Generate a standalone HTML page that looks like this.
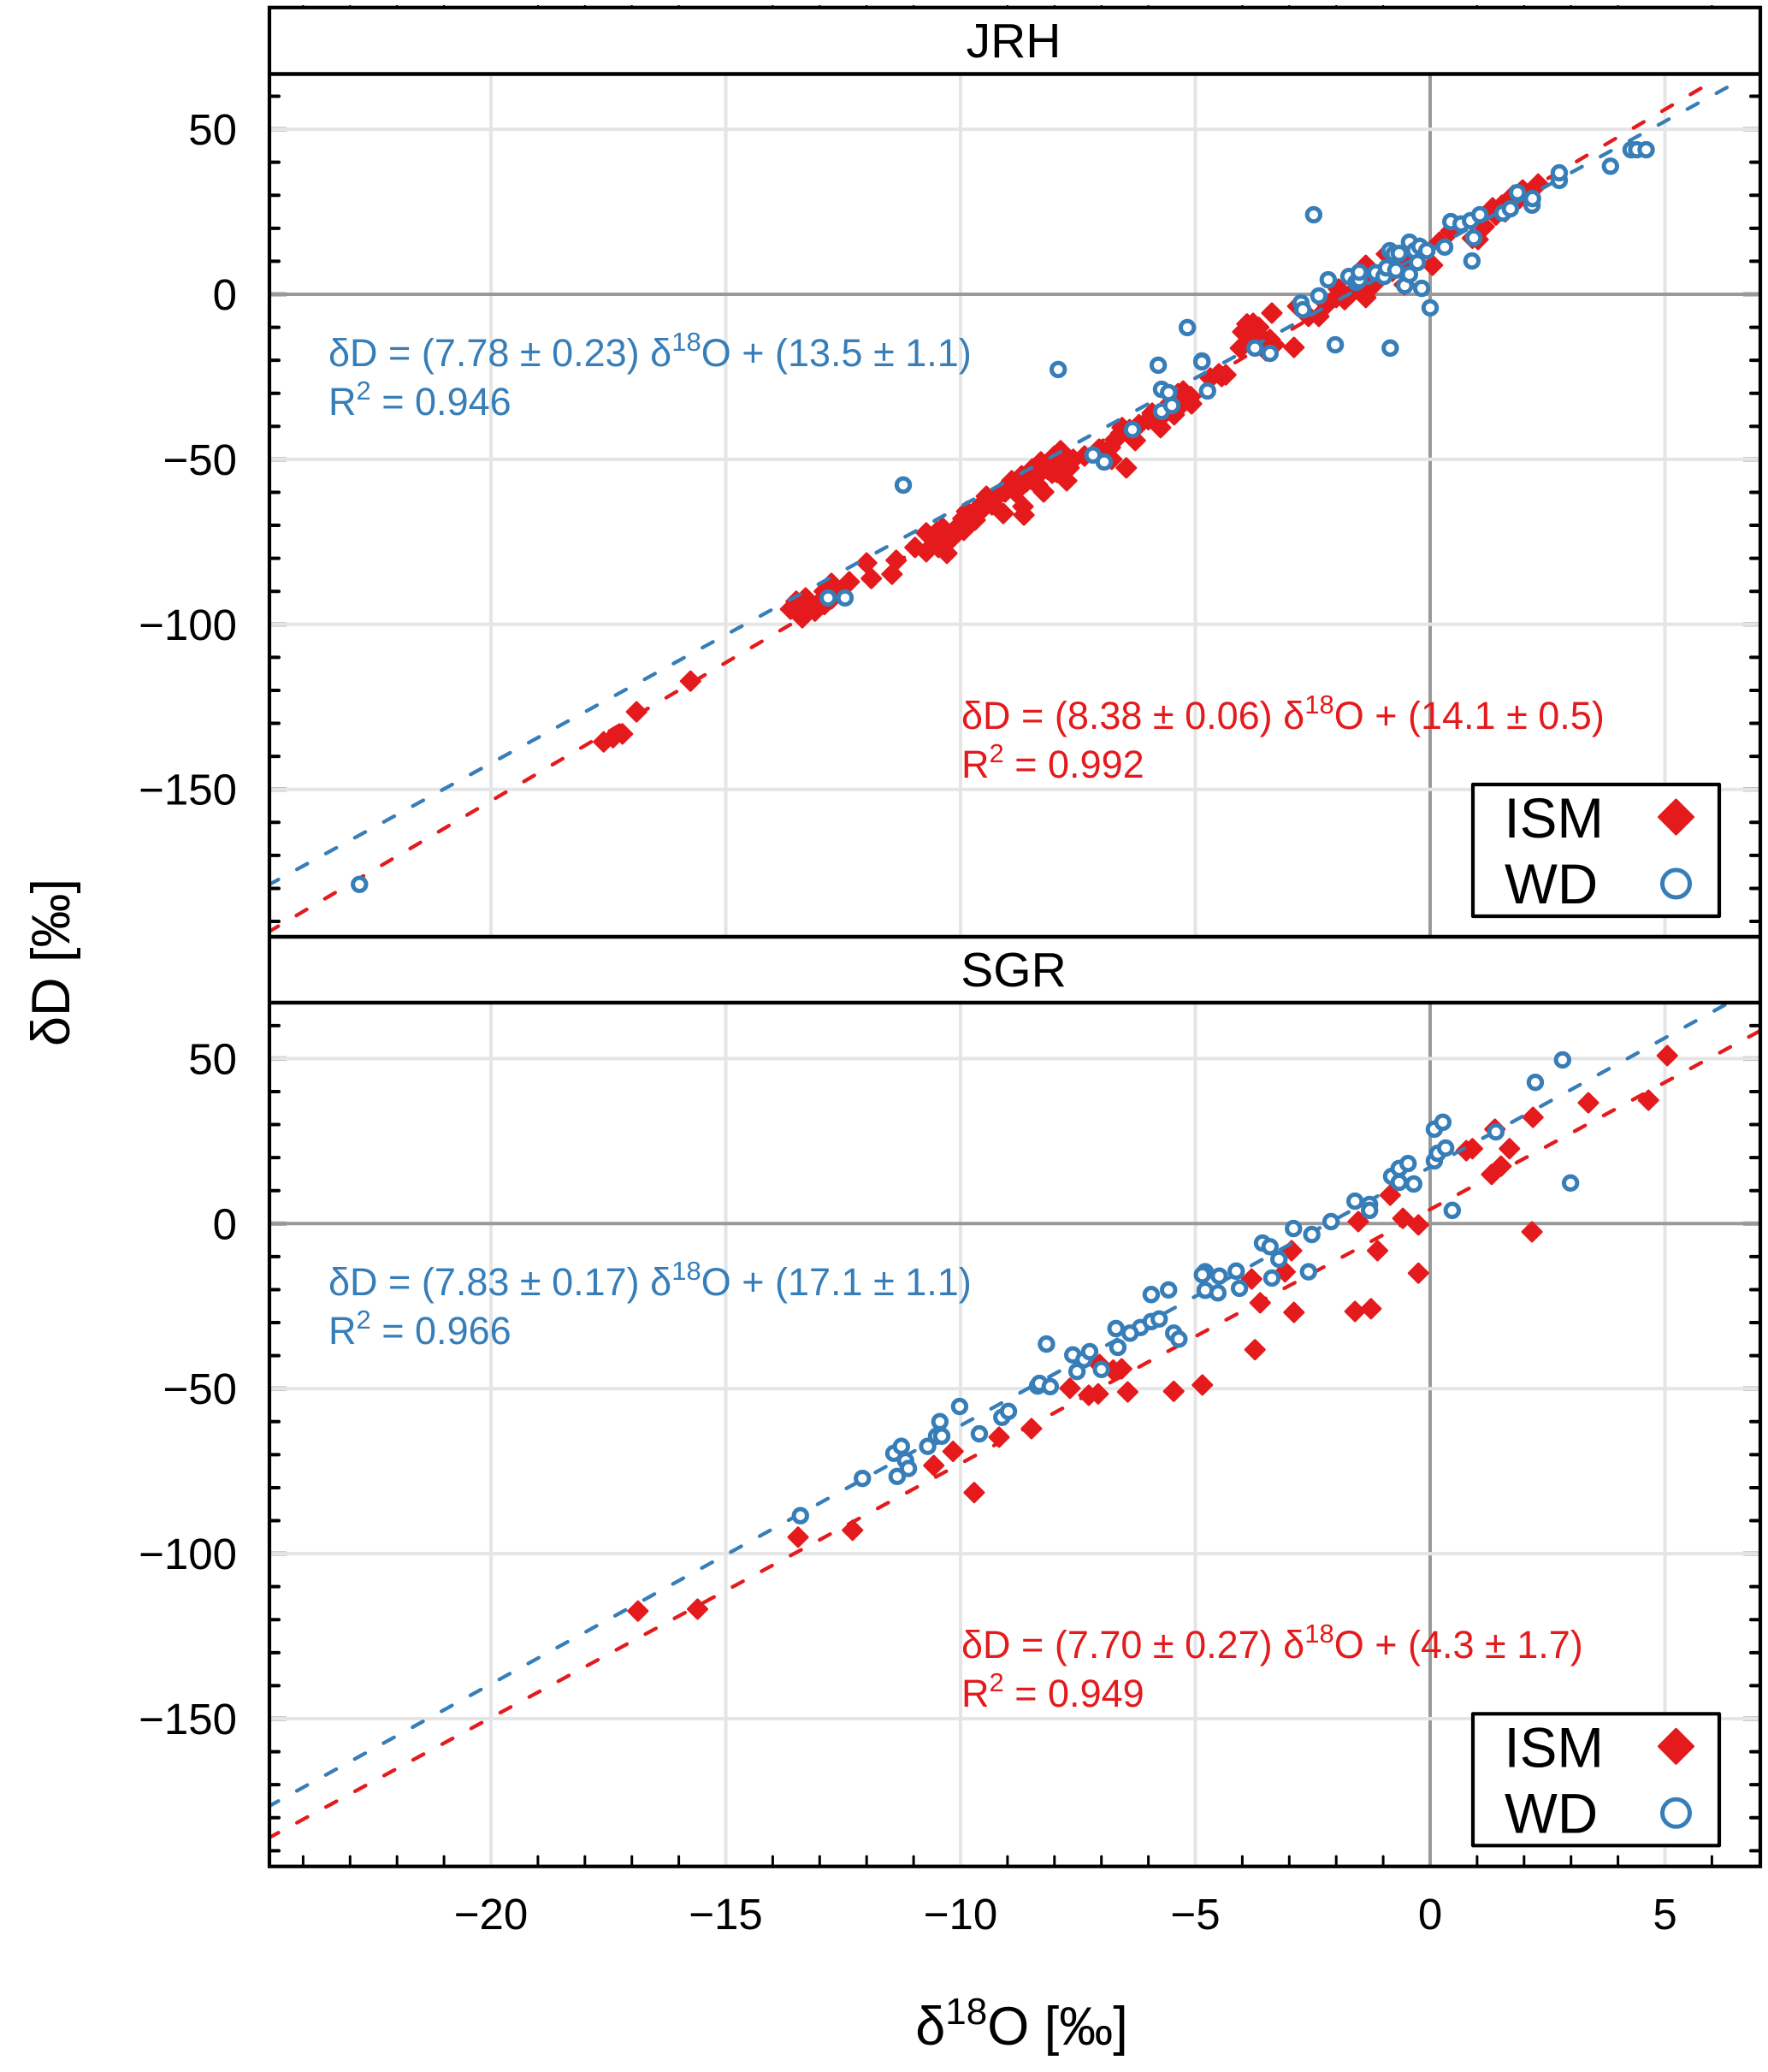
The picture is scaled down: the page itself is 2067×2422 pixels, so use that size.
<!DOCTYPE html>
<html lang="en">
<head>
<meta charset="utf-8">
<title>Stable isotope scatter: JRH and SGR</title>
<style>
html,body{margin:0;padding:0;background:#fff}
svg{display:block;font-family:"Liberation Sans",Arial,sans-serif}
</style>
</head>
<body>
<svg id="chart" xmlns="http://www.w3.org/2000/svg" width="2067" height="2422" viewBox="0 0 2067 2422">
  <defs>
    <clipPath id="clip-jrh"><rect x="315" y="86.5" width="1743" height="1008.5"/></clipPath>
    <clipPath id="clip-sgr"><rect x="315" y="1172" width="1743" height="1009.7"/></clipPath>
  </defs>
  <rect x="0" y="0" width="2067" height="2422" fill="#fff"/>
  <g id="jrh-panel" clip-path="url(#clip-jrh)"></g>
  <g id="sgr-panel" clip-path="url(#clip-sgr)"></g>
  <g id="axis-ticks"></g>

  <g stroke="#000" fill="none" stroke-width="4.2">
    <rect x="315" y="8.8" width="1743" height="2172.9"/>
    <line x1="315" x2="2058" y1="86.5" y2="86.5" stroke-width="4.6"/>
    <line x1="315" x2="2058" y1="1095" y2="1095" stroke-width="4.6"/>
    <line x1="315" x2="2058" y1="1172" y2="1172" stroke-width="4.6"/>
  </g>

  <text x="1185" y="67" font-size="57" text-anchor="middle">JRH</text>
  <text x="1185" y="1153" font-size="57" text-anchor="middle">SGR</text>

  <g id="tick-labels" font-size="51" fill="#000"></g>

  <text transform="translate(81,1125) rotate(-90)" font-size="63" text-anchor="middle">δD [‰]</text>
  <text x="1194.5" y="2390" font-size="63" text-anchor="middle">δ<tspan font-size="44" dy="-24">18</tspan><tspan dy="24">O [‰]</tspan></text>

  <g fill="#377eb8" font-size="45">
    <text x="384" y="428">δD = (7.78 ± 0.23) δ<tspan font-size="31" dy="-18">18</tspan><tspan dy="18">O + (13.5 ± 1.1)</tspan></text>
    <text x="384" y="485">R<tspan font-size="31" dy="-18">2</tspan><tspan dy="18"> = 0.946</tspan></text>
  </g>
  <g fill="#e41a1c" font-size="45">
    <text x="1124" y="852">δD = (8.38 ± 0.06) δ<tspan font-size="31" dy="-18">18</tspan><tspan dy="18">O + (14.1 ± 0.5)</tspan></text>
    <text x="1124" y="909">R<tspan font-size="31" dy="-18">2</tspan><tspan dy="18"> = 0.992</tspan></text>
  </g>
  <g fill="#377eb8" font-size="45">
    <text x="384" y="1514">δD = (7.83 ± 0.17) δ<tspan font-size="31" dy="-18">18</tspan><tspan dy="18">O + (17.1 ± 1.1)</tspan></text>
    <text x="384" y="1571">R<tspan font-size="31" dy="-18">2</tspan><tspan dy="18"> = 0.966</tspan></text>
  </g>
  <g fill="#e41a1c" font-size="45">
    <text x="1124" y="1938">δD = (7.70 ± 0.27) δ<tspan font-size="31" dy="-18">18</tspan><tspan dy="18">O + (4.3 ± 1.7)</tspan></text>
    <text x="1124" y="1995">R<tspan font-size="31" dy="-18">2</tspan><tspan dy="18"> = 0.949</tspan></text>
  </g>

  <g>
    <rect x="1722" y="917" width="288" height="154" fill="#fff" stroke="#000" stroke-width="4.2" stroke-linejoin="round"/>
    <text x="1758.5" y="979" font-size="65.5">ISM</text>
    <polygon points="1959.5,935 1979.5,955 1959.5,975 1939.5,955" fill="#e41a1c" stroke="#e41a1c" stroke-width="3" stroke-linejoin="round"/>
    <text x="1759" y="1056" font-size="65.5">WD</text>
    <circle cx="1959.5" cy="1033" r="16" fill="#fff" stroke="#377eb8" stroke-width="5"/>
  </g>
  <g>
    <rect x="1722" y="2003.3" width="288" height="154" fill="#fff" stroke="#000" stroke-width="4.2" stroke-linejoin="round"/>
    <text x="1758.5" y="2065.3" font-size="65.5">ISM</text>
    <polygon points="1959.5,2021.3 1979.5,2041.3 1959.5,2061.3 1939.5,2041.3" fill="#e41a1c" stroke="#e41a1c" stroke-width="3" stroke-linejoin="round"/>
    <text x="1759" y="2142.3" font-size="65.5">WD</text>
    <circle cx="1959.5" cy="2119.3" r="16" fill="#fff" stroke="#377eb8" stroke-width="5"/>
  </g>
</svg>
<script>
// ---- tick values ----
const xMajorTicks = [-20, -15, -10, -5, 0, 5];
const xMinorTicks = [-24, -23, -22, -21, -19, -18, -17, -16, -14, -13, -12, -11, -9, -8, -7, -6, -4, -3, -2, -1, 1, 2, 3, 4, 6];
const yMajorTicks = [50, 0, -50, -100, -150];
const yMinorTicks = [60, 40, 30, 20, 10, -10, -20, -30, -40, -60, -70, -80, -90, -110, -120, -130, -140, -160, -170, -180, -190];

// ---- JRH ISM ----
const jrhIsmX = [-17.6,-17.4,-17.2,-16.9,-15.75,-13.62,-13.5,-13.46,-13.37,-13.3,-13.2,-13.1,-13.06,-12.9,-12.9,-12.75,-12.75,-12.55,-12.37,-12.0,-11.9,-11.37,-11.46,-10.97,-10.73,-10.73,-10.6,-10.5,-10.47,-10.38,-10.3,-10.29,-10.2,-10.1,-9.95,-9.93,-9.82,-9.69,-9.6,-10.24,-9.87,-9.75,-9.56,-9.45,-9.4,-9.33,-9.2,-9.09,-9.05,-9.0,-8.8,-8.7,-8.67,-8.65,-8.91,-8.83,-8.5,-8.47,-8.4,-8.3,-8.29,-8.23,-8.15,-8.1,-8.36,-8.6,-8.0,-7.95,-7.87,-7.8,-7.74,-7.87,-8.05,-7.69,-7.6,-7.36,-7.05,-6.95,-6.81,-6.78,-6.7,-6.47,-6.56,-6.4,-6.28,-6.2,-6.59,-6,-5.8,-5.74,-5.92,-5.65,-5.45,-5.56,-5.3,-5.26,-5.2,-5.1,-5.08,-5.37,-4.44,-4.68,-4.5,-4.35,-3.9,-3.77,-3.99,-3.73,-3.65,-3.6,-4.04,-3.81,-3.41,-3.5,-3.32,-2.9,-3.37,-2.82,-2.59,-2.37,-2.2,-2,-1.82,-1.95,-1.7,-1.44,-1.37,-1.37,-1.48,-1.2,-1.1,-0.93,-0.8,-0.55,-0.5,0.05,-0.22,-0.58,0.2,0.44,0.9,1.02,1.15,1.33,1.4,1.53,1.6,1.77,1.9,1.97,2.3];
const jrhIsmY = [-135.6,-134.3,-133.2,-126.5,-117.2,-95.4,-93,-95.6,-98.0,-92,-94.1,-96,-94.1,-90,-94,-92.3,-87.6,-89.7,-87.1,-81.4,-86.1,-80.6,-84.8,-76.7,-72.3,-78.0,-74,-72,-76.7,-70.8,-72,-78.5,-74.1,-71,-68,-71.5,-68.2,-68.4,-66,-73.4,-65.8,-68.2,-63.8,-61.2,-63,-63.8,-61,-66.4,-59.9,-58,-57,-55,-64.3,-66.9,-56.5,-59.9,-56,-52.9,-53,-54,-50.8,-59.9,-53,-51,-57.8,-56.8,-49,-54,-47.4,-50,-56.5,-52.6,-54.2,-52.6,-50,-49,-46.9,-48,-46.4,-50,-44,-52.6,-40.4,-41,-44.3,-39.5,-42.2,-38,-37.5,-40.4,-36,-36,-36.5,-33.4,-33.5,-29.3,-31,-31,-33.2,-30.1,-24.9,-25.4,-24.1,-24.4,-9,-8.8,-11.4,-11.1,-10,-13,-16.3,-14.5,-13.7,-17.1,-15.3,-16.1,-5.7,-3.6,-6.7,-6.7,-3,-1,-1.6,1.6,0,1,-1,8.8,4.4,3,5,12.2,7,2.9,9,8.8,14,11.4,15.8,19.2,17,16.6,20.5,26.2,24,27,25,30,29,31.6,33.4];

// ---- JRH WD ----
const jrhWdX = [-22.8,-12.82,-12.46,-11.22,-7.92,-7.18,-6.94,-6.34,-5.79,-5.72,-5.72,-5.57,-5.5,-5.17,-4.86,-4.86,-4.74,-3.73,-3.41,-2.75,-2.71,-2.48,-2.37,-2.17,-2.02,-1.73,-1.58,-1.51,-1.51,-1.16,-0.98,-0.93,-0.85,-0.86,-0.77,-0.73,-0.66,-0.54,-0.44,-0.44,-0.33,-0.27,-0.22,-0.18,-0.07,0,0.31,0.44,0.66,0.86,0.89,0.93,1.06,1.55,1.71,1.86,2.17,2.18,2.75,2.75,3.84,4.28,4.4,4.6];
const jrhWdY = [-178.8,-92,-92,-57.8,-22.8,-48.7,-50.8,-41,-21.5,-28.8,-35.5,-29.8,-33.7,-10.1,-20.2,-20.5,-29.3,-16.3,-17.9,-2.6,-4.7,24.1,-0.5,4.4,-15.3,5.4,3.6,4.4,6.7,6.5,5.4,8,-16.3,13.2,12.2,7.3,12.4,2.6,15.8,6,13.2,9.6,14.5,1.8,13.2,-4.1,14.3,22,21.3,22.3,10.1,17.1,24.1,24.6,25.9,30.8,27,29,34.5,36.8,38.8,43.8,43.8,43.8];

// ---- SGR ISM ----
const sgrIsmX = [-16.87,-15.6,-13.46,-12.3,-9.71,-10.57,-10.16,-9.18,-8.49,-7.67,-7.27,-7.07,-7.04,-6.75,-6.57,-6.44,-5.46,-4.85,-3.73,-3.62,-2.9,-1.6,-1.26,-3.8,-3.09,-2.95,-1.12,-0.25,-1.53,-0.58,-0.25,2.17,-0.85,0.77,0.9,1.31,1.51,1.69,1.38,2.19,3.37,4.65,5.05];
const sgrIsmY = [-117.4,-116.8,-95,-92.9,-81.5,-73.3,-69,-64.7,-62.1,-49.9,-52,-51.6,-42.7,-44.4,-44,-51,-50.8,-48.9,-38.2,-24,-26.9,-26.6,-25.8,-16.8,-14.6,-8.2,-8.2,-15,0.6,1.6,-0.4,-2.5,8.6,22.1,22.7,14.9,17.4,22.7,28.6,32.2,36.6,37.4,50.9];

// ---- SGR WD ----
const sgrWdX = [-13.41,-12.09,-11.42,-11.26,-11.17,-11.11,-11.35,-10.7,-10.44,-10.51,-10.4,-10.02,-9.6,-9.12,-8.98,-8.36,-8.32,-8.09,-8.17,-7.61,-7.52,-7.37,-7.25,-7,-6.17,-5.94,-5.77,-6.69,-6.39,-6.65,-5.46,-5.35,-5.94,-5.57,-4.79,-4.85,-4.79,-4.52,-4.49,-4.13,-4.06,-3.57,-3.41,-3.22,-3.37,-2.59,-2.91,-2.52,-2.11,-1.6,-1.29,-1.29,-0.82,-0.66,-0.47,-0.66,-0.35,0.09,0.27,0.09,0.16,0.33,0.47,1.4,2.24,2.82,2.99];
const sgrWdY = [-88.5,-77.2,-69.6,-67.5,-71.8,-74.2,-76.6,-67.5,-60,-64.4,-64.4,-55.4,-63.7,-58.7,-56.9,-49.2,-48.4,-49.4,-36.5,-39.8,-44.8,-41.2,-38.8,-44.2,-31.5,-29.7,-28.9,-31.8,-33.2,-37.5,-33.2,-35,-21.5,-20.1,-14.6,-15.5,-20.2,-21,-15.9,-14.4,-19.6,-5.9,-7,-10.8,-16.5,-14.6,-1.5,-3.3,0.6,6.8,5.8,4,14.3,16.7,18.2,12.5,12,28.6,30.7,19,21.3,22.9,4,27.8,42.8,49.6,12.3];

// ---- printed fit coefficients and drawn extents (δ18O) ----
const jrhIsmFit = [8.38, 14.1];
const jrhWdFit = [7.78, 13.5];
const sgrIsmFit = [7.70, 4.3];
const sgrWdFit = [7.83, 17.1];
const jrhIsmFitRange = [-24.75, 5.96];
const jrhWdFitRange = [-24.75, 6.55];
const sgrIsmFitRange = [-24.75, 7.1];
const sgrWdFitRange = [-24.75, 7.1];

// ---- axis functions ----
const SVG_NS = 'http://www.w3.org/2000/svg';
const X_ZERO = 1672, X_UNIT = 54.9, Y_UNIT = 3.858;
const JRH_ZERO = 344, SGR_ZERO = 1430.3;
function sx(v) { return X_ZERO + v * X_UNIT; }
function syJrh(v) { return JRH_ZERO - v * Y_UNIT; }
function sySgr(v) { return SGR_ZERO - v * Y_UNIT; }

function make(tag, parent, attrs) {
  const el = document.createElementNS(SVG_NS, tag);
  for (const k in attrs) el.setAttribute(k, attrs[k]);
  parent.appendChild(el);
  return el;
}

function drawFit(group, fit, range, sy, color, name) {
  const line = make('line', group, {
    x1: sx(range[0]), y1: sy(fit[0] * range[0] + fit[1]),
    x2: sx(range[1]), y2: sy(fit[0] * range[1] + fit[1]),
    stroke: color, 'stroke-width': 4.3, 'stroke-linecap': 'round', 'stroke-dasharray': '14 24.6'
  });
  
  
}

function drawPanel(groupId, sy, top, bottom, ismX, ismY, wdX, wdY, ismFit, wdFit, ismRange, wdRange, prefix) {
  const g = document.getElementById(groupId);
  xMajorTicks.forEach(function (v) {
    const grid = make('line', g, {
      x1: sx(v), x2: sx(v), y1: top, y2: bottom,
      stroke: v === 0 ? '#999999' : '#e5e5e5', 'stroke-width': 4
    });
    
    
  });
  yMajorTicks.forEach(function (v) {
    const stub = make('line', g, {
      x1: 315, x2: 335, y1: sy(v), y2: sy(v), stroke: '#b5b5b5', 'stroke-width': 5.4
    });
    
    
    const stubR = make('line', g, {
      x1: 2038, x2: 2058, y1: sy(v), y2: sy(v), stroke: '#b5b5b5', 'stroke-width': 5.4
    });
    
    
    const grid = make('line', g, {
      x1: 315, x2: 2058, y1: sy(v), y2: sy(v),
      stroke: v === 0 ? '#999999' : '#e5e5e5', 'stroke-width': 4
    });
    
    
  });
  drawFit(g, ismFit, ismRange, sy, '#e41a1c', prefix + '-ism-fit-line');
  ismX.forEach(function (x, i) {
    const px = sx(x), py = sy(ismY[i]), r = 11;
    const d = make('polygon', g, {
      points: px + ',' + (py - r) + ' ' + (px + r) + ',' + py + ' ' + px + ',' + (py + r) + ' ' + (px - r) + ',' + py,
      fill: '#e41a1c', stroke: '#e41a1c', 'stroke-width': 3, 'stroke-linejoin': 'round'
    });
    
    
  });
  drawFit(g, wdFit, wdRange, sy, '#377eb8', prefix + '-wd-fit-line');
  wdX.forEach(function (x, i) {
    const c = make('circle', g, {
      cx: sx(x), cy: sy(wdY[i]), r: 7.7, fill: '#fff', stroke: '#377eb8', 'stroke-width': 5
    });
    
    
  });
}

drawPanel('jrh-panel', syJrh, 88, 1095, jrhIsmX, jrhIsmY, jrhWdX, jrhWdY, jrhIsmFit, jrhWdFit, jrhIsmFitRange, jrhWdFitRange, 'jrh');
drawPanel('sgr-panel', sySgr, 1174, 2181, sgrIsmX, sgrIsmY, sgrWdX, sgrWdY, sgrIsmFit, sgrWdFit, sgrIsmFitRange, sgrWdFitRange, 'sgr');

// ---- ticks ----
const tickGroup = document.getElementById('axis-ticks');
[syJrh, sySgr].forEach(function (sy, p) {
  const lo = p === 0 ? 90 : 1176, hi = p === 0 ? 1093 : 2179;
  yMinorTicks.forEach(function (v) {
    const y = sy(v);
    if (y < lo || y > hi) return;
    const l = make('line', tickGroup, { x1: 315, x2: 326, y1: y, y2: y, stroke: '#000', 'stroke-width': 4, 'stroke-linecap': 'round' });
    
    
    const r = make('line', tickGroup, { x1: 2047, x2: 2058, y1: y, y2: y, stroke: '#000', 'stroke-width': 4, 'stroke-linecap': 'round' });
    
    
  });
});
xMinorTicks.forEach(function (v) {
  const b = make('line', tickGroup, { x1: sx(v), x2: sx(v), y1: 2170, y2: 2181, stroke: '#000', 'stroke-width': 3, 'stroke-linecap': 'round' });
  
  
  const t = make('line', tickGroup, { x1: sx(v), x2: sx(v), y1: 6, y2: 9, stroke: '#000', 'stroke-width': 2 });
  
  
});

// ---- tick labels ----
function fmt(v) { return (v < 0 ? '\u2212' : '') + Math.abs(v); }
const labelGroup = document.getElementById('tick-labels');
[syJrh, sySgr].forEach(function (sy) {
  yMajorTicks.forEach(function (v) {
    const t = make('text', labelGroup, { x: 277, y: sy(v) + 18, 'text-anchor': 'end' });
    t.textContent = fmt(v);
    
    
  });
});
xMajorTicks.forEach(function (v) {
  const t = make('text', labelGroup, { x: sx(v), y: 2255, 'text-anchor': 'middle' });
  t.textContent = fmt(v);
  
  
});
</script>
</body>
</html>
